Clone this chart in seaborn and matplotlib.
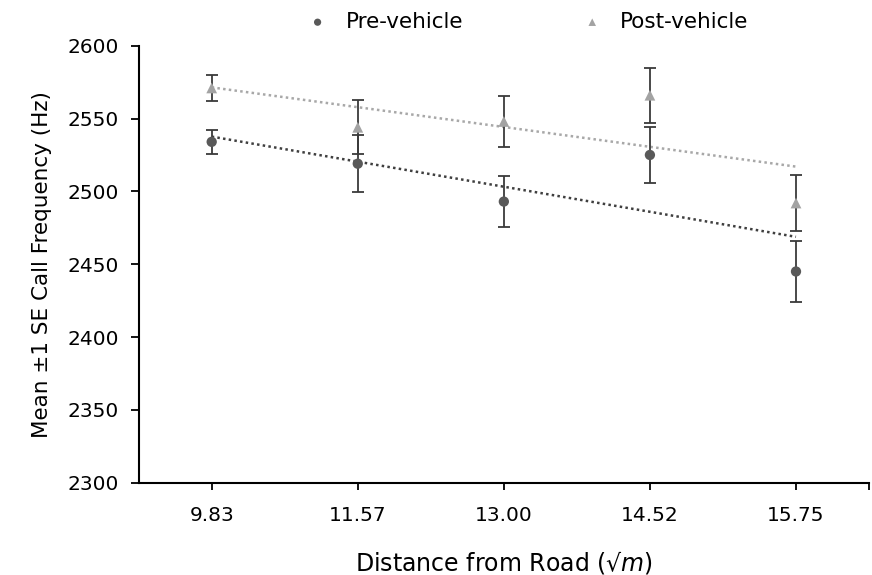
import numpy as np
import pandas as pd
import matplotlib
matplotlib.use('Agg')
import matplotlib.pyplot as plt
import seaborn as sns

# data
distance_labels = ['9.83', '11.57', '13.00', '14.52', '15.75']
pre_mean = [2534, 2519, 2493, 2525, 2445]
pre_se = [8, 19.4, 17.5, 19.5, 21]
post_mean = [2571, 2544, 2548, 2566, 2492]
post_se = [9, 18.5, 17.5, 19, 19]

sns.set_style('white')
plt.rcParams['font.family'] = ['DejaVu Sans']
plt.rcParams['text.color'] = 'black'
plt.rcParams['axes.labelcolor'] = 'black'
plt.rcParams['xtick.color'] = 'black'
plt.rcParams['ytick.color'] = 'black'

pos = np.arange(len(distance_labels))
df = pd.DataFrame({'pos': np.concatenate([pos, pos]),
                   'mean': pre_mean + post_mean,
                   'se': pre_se + post_se,
                   'group': ['Pre-vehicle'] * 5 + ['Post-vehicle'] * 5})

fig = plt.figure(figsize=(8.72, 5.75), dpi=100)
ax = fig.add_axes([0.159, 0.1605, 0.8376, 0.76])

styles = {'Pre-vehicle': dict(color='#595959', marker='o', line='#3f3f3f', ms=55),
          'Post-vehicle': dict(color='#a3a3a3', marker='^', line='#a8a8a8', ms=60)}

# trend lines
for g, st in styles.items():
    d = df[df['group'] == g]
    sns.regplot(data=d, x='pos', y='mean', ax=ax, ci=None, scatter=False, truncate=True,
                line_kws=dict(color=st['line'], linestyle=(0, (1, 1.3)), linewidth=1.8))

# error bars
ax.errorbar(df['pos'], df['mean'], yerr=df['se'], fmt='none', ecolor='#3a3a3a',
            elinewidth=1.3, capsize=4, capthick=1.3, zorder=3)

# points
for g, st in styles.items():
    d = df[df['group'] == g]
    sns.scatterplot(data=d, x='pos', y='mean', ax=ax, color=st['color'], marker=st['marker'],
                    s=st['ms'], edgecolor='none', label=g, zorder=4)

ax.set_xlim(-0.5, 4.5)
ax.set_ylim(2300, 2600)
ax.set_yticks(np.arange(2300, 2601, 50))
ax.set_xticks(pos)
ax.set_xticklabels(distance_labels)
ax.set_xticks([4.5], minor=True)

for s in ['top', 'right']:
    ax.spines[s].set_visible(False)
for s in ['left', 'bottom']:
    ax.spines[s].set_color('black')
    ax.spines[s].set_linewidth(1.5)

ax.tick_params(axis='y', which='major', direction='out', length=6, width=1.3, left=True,
               labelsize=14.5, pad=8)
ax.tick_params(axis='x', which='both', direction='out', length=5, width=1.3, bottom=True,
               labelsize=14.5, pad=12)

ax.set_xlabel('Distance from Road (√$m$)', fontsize=17, labelpad=17)
ax.set_ylabel('Mean ±1 SE Call Frequency (Hz)', fontsize=15.5, labelpad=11)

handles, labels = ax.get_legend_handles_labels()
ax.legend_.remove()
fig.legend(handles, labels, loc='center', bbox_to_anchor=(0.599, 0.962), ncol=2,
           frameon=False, fontsize=15.5, markerscale=0.7, columnspacing=5.0,
           handletextpad=0.3)

fig.savefig('out.png', dpi=100)
